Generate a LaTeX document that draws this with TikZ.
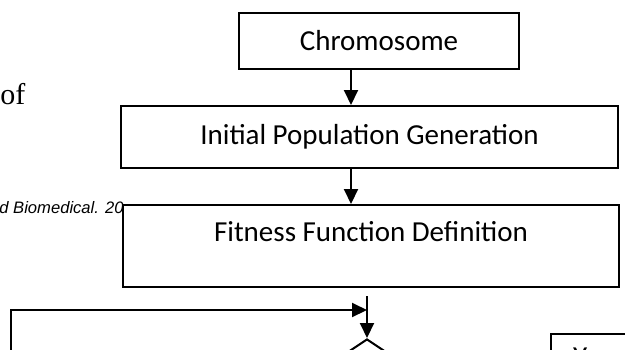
\documentclass[tikz,border=0pt]{standalone}
\usepackage{fontspec}
\newfontfamily\calibrifont{Carlito}
\newfontfamily\timesfont{Liberation Serif}
\newfontfamily\arialfont{Liberation Sans}
\usetikzlibrary{positioning,calc,shapes.geometric,arrows.meta}

\begin{document}
\begin{tikzpicture}[
  x = 0.5pt,
  y = -0.5pt,
  stepbox/.style={draw, line width=1pt, fill=white, inner sep=0pt,
    font=\calibrifont\fontsize{14.5}{17}\selectfont},
  flow-arrow/.style={line width=1pt, -{Triangle[width=7pt,length=7.5pt]}},
  ]
  \useasboundingbox (0,0) rectangle (625,349);

  \node[anchor=base west, inner sep=0pt, font=\timesfont\fontsize{15}{18}\selectfont] (of-word) at (0,104) {of};
  \node[anchor=base west, inner sep=0pt, font=\arialfont\itshape\fontsize{8.3}{10}\selectfont] (journal) at (-1,213) {d Biomedical. 20};

  \node[stepbox, minimum width=140pt, minimum height=28pt] (chromosome) at (379,41) {Chromosome};
  \node[stepbox, minimum width=248.5pt, minimum height=31pt, below=17.5pt of chromosome, xshift=-4.75pt] (population) {Initial Population Generation};
  \node[stepbox, minimum width=248pt, minimum height=41pt, text height=6pt, text depth=11pt,
    below=17.5pt of population, xshift=0.75pt] (fitness) {Fitness Function Definition};

  \node[draw, diamond, line width=1pt, minimum width=90pt, minimum height=60pt, inner sep=0pt, anchor=north] (decision) at (367,338) {};
  \node[stepbox, minimum width=41pt, minimum height=23pt, anchor=north west] (yes) at (550,333) {Yes};

  \coordinate (spine) at (351,0);
  \coordinate (loop-foot) at (11,380);
  \coordinate (loop-level) at (0,310);

  \draw[flow-arrow] (chromosome.south -| spine) -- (population.north -| spine);
  \draw[flow-arrow] (population.south -| spine) -- (fitness.north -| spine);
  \draw[flow-arrow] ($(fitness.south -| decision.north)+(0,8)$) -- (decision.north);
  \draw[flow-arrow] (loop-foot) |- (decision.north |- loop-level);
\end{tikzpicture}
\end{document}
